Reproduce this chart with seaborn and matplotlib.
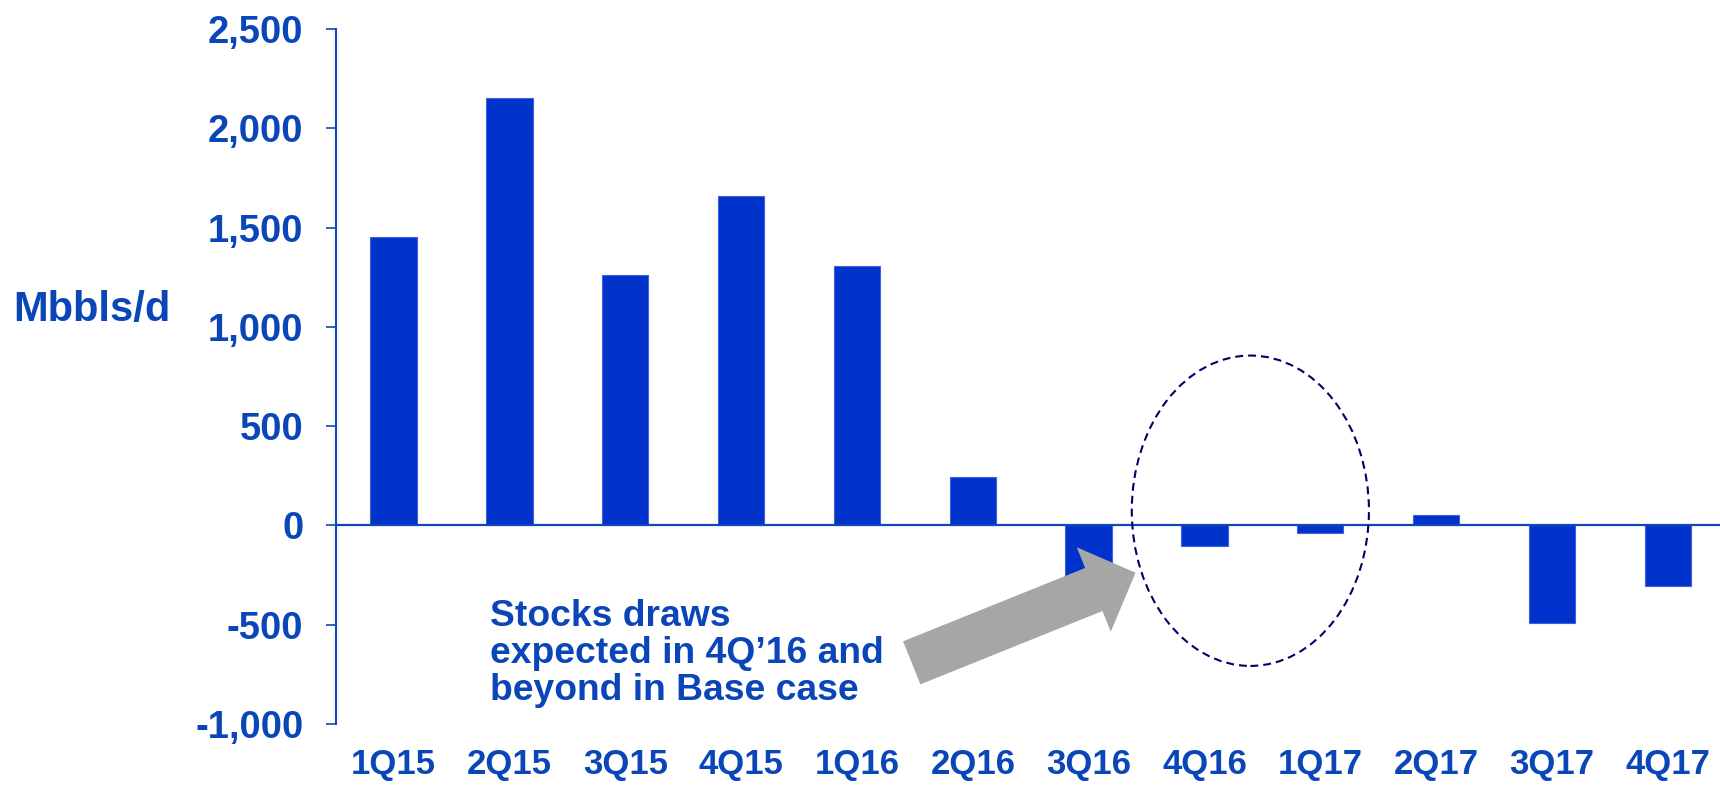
import matplotlib
matplotlib.use("Agg")
import matplotlib.pyplot as plt
import seaborn as sns
import pandas as pd
from matplotlib.patches import Ellipse
from matplotlib.ticker import FuncFormatter

# ---- data ----
categories = ["1Q15", "2Q15", "3Q15", "4Q15", "1Q16", "2Q16",
              "3Q16", "4Q16", "1Q17", "2Q17", "3Q17", "4Q17"]
values = [1450, 2150, 1260, 1660, 1305, 245,
          -270, -105, -40, 50, -490, -305]
y_ticks = [-1000, -500, 0, 500, 1000, 1500, 2000, 2500]
y_label = "Mbbls/d"
note = "Stocks draws\nexpected in 4Q\u201916 and\nbeyond in Base case"

# ---- style ----
sns.set_style("white")
plt.rcParams["font.family"] = ["Liberation Sans", "DejaVu Sans"]
plt.rcParams["axes.unicode_minus"] = False

bar_color = "#0033CC"
text_color = "#0A46B8"
axis_color = "#1048B8"

df = pd.DataFrame({"quarter": categories, "value": values})

fig = plt.figure(figsize=(17.2, 7.87), dpi=100)
ax = fig.add_axes([335.6 / 1720, 1 - 724 / 787, 1 - 335.6 / 1720, (724 - 29) / 787])

sns.barplot(data=df, x="quarter", y="value", order=categories, color=bar_color,
            saturation=1, width=0.4, edgecolor="#3F62DA", linewidth=0.8, ax=ax, zorder=2)

ax.set_xlim(-0.5, 11.45)
ax.set_ylim(-1000, 2500)
ax.set_yticks(y_ticks)
ax.yaxis.set_major_formatter(FuncFormatter(lambda v, p: f"{v:,.0f}"))
ax.set_xlabel("")
ax.set_ylabel("")

for s in ["top", "right", "bottom"]:
    ax.spines[s].set_visible(False)
ax.spines["left"].set_color(axis_color)
ax.spines["left"].set_linewidth(1.5)

ax.axhline(0, color=axis_color, lw=1.6, zorder=3)

ax.tick_params(axis="y", direction="out", length=7.2, width=1.2, color=axis_color,
               pad=16, labelsize=27.5, labelcolor=text_color, left=True)
ax.tick_params(axis="x", length=0, pad=17, labelsize=25, labelcolor=text_color)
for lab in ax.get_yticklabels() + ax.get_xticklabels():
    lab.set_fontweight("bold")

fig.text(13 / 1720, 1 - 310 / 787, y_label, ha="left", va="center",
         fontsize=30, fontweight="bold", color=text_color)

# grey block arrow
ax.annotate("", xy=(6.405, -238), xytext=(4.473, -692), xycoords="data",
            arrowprops=dict(arrowstyle="simple,head_length=32.4,head_width=65.5,tail_width=33.4",
                            mutation_scale=1, color="#A6A6A6", shrinkA=0, shrinkB=0, lw=0),
            zorder=4, annotation_clip=False)

# dashed ellipse
ax.add_patch(Ellipse((7.396, 74), 2.047, 1563, fill=False, edgecolor="#000066",
                     lw=1.5, linestyle=(0, (3.8, 2.4)), zorder=5, clip_on=False))

ax.text(0.83, -370, note, ha="left", va="top", fontsize=26.8, fontweight="bold",
        color=text_color, linespacing=1.08, zorder=6)

fig.savefig("out.png", dpi=100)
